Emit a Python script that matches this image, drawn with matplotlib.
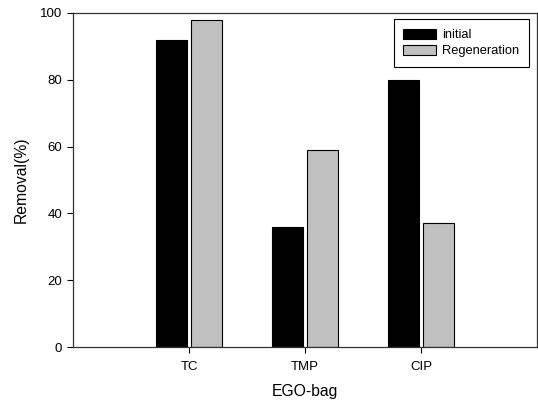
import matplotlib
matplotlib.use("Agg")
import matplotlib.pyplot as plt
import numpy as np

plt.rcParams['font.family'] = ['Liberation Sans', 'DejaVu Sans']

# data
categories = ["TC", "TMP", "CIP"]
initial = [92.0, 36.0, 79.8]
regeneration = [98.0, 59.0, 37.1]

fig = plt.figure(figsize=(5.38, 4.05), dpi=100)
ax = fig.add_axes([0.136, 0.143, 0.862, 0.825])

x = np.arange(1, len(categories) + 1)
w = 0.27
ax.bar(x - 0.15, initial, w, color="black", edgecolor="black", linewidth=0.8, label="initial")
ax.bar(x + 0.15, regeneration, w, color="#c0c0c0", edgecolor="black", linewidth=0.8, label="Regeneration")

ax.set_xlim(0, 4)
ax.set_ylim(0, 100)
ax.set_xticks(x)
ax.set_xticklabels(categories)
ax.set_yticks(np.arange(0, 101, 20))
ax.tick_params(labelsize=9.5, length=4, width=0.8, colors="black", pad=4)
ax.tick_params(axis="x", pad=6)
for s in ax.spines.values():
    s.set_linewidth(0.9)
    s.set_color("#333333")

ax.set_xlabel("EGO-bag", fontsize=11.3, labelpad=8)
ax.set_ylabel("Removal(%)", fontsize=11.3, labelpad=8)

leg = ax.legend(loc="upper right", fontsize=9.3, fancybox=False, edgecolor="black",
                framealpha=1, handlelength=2.5, handleheight=0.8, handletextpad=0.5,
                labelspacing=0.3, borderpad=0.75, borderaxespad=0,
                bbox_to_anchor=(0.983, 0.982))
leg.get_frame().set_linewidth(0.8)

fig.savefig("out.png", dpi=100)
